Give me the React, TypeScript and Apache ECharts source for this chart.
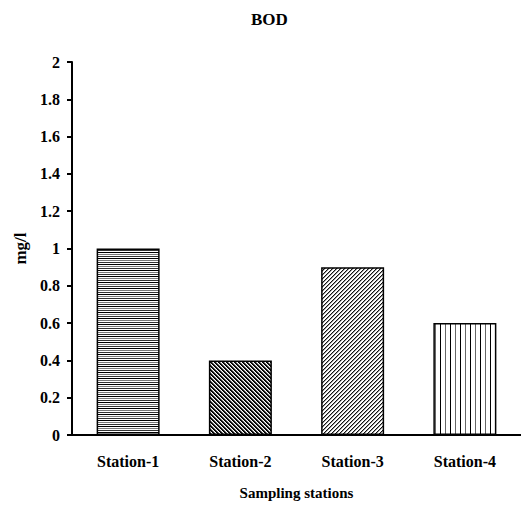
import React, { useEffect, useRef } from "react";
import * as echarts from "echarts";

const categories = ["Station-1", "Station-2", "Station-3", "Station-4"];
const bodValues = [1.0, 0.4, 0.9, 0.6];
const yTicks = { min: 0, max: 2, interval: 0.2 };
const titleText = "BOD";
const yName = "mg/l";
const xName = "Sampling stations";

type Painter = (ctx: CanvasRenderingContext2D) => void;

function makePattern(w: number, h: number, paint: Painter) {
  const c = document.createElement("canvas");
  c.width = w;
  c.height = h;
  const ctx = c.getContext("2d")!;
  ctx.fillStyle = "#fff";
  ctx.fillRect(0, 0, w, h);
  paint(ctx);
  return { image: c.toDataURL(), repeat: "repeat", imageWidth: w, imageHeight: h } as any;
}

function px(ctx: CanvasRenderingContext2D, x: number, y: number, col: string) {
  ctx.fillStyle = col;
  ctx.fillRect(x, y, 1, 1);
}

export default function App() {
  const ref = useRef<HTMLDivElement>(null);
  useEffect(() => {
    if (!ref.current) return;
    const chart = echarts.init(ref.current, undefined, { renderer: "svg" });

    const horiz = makePattern(4, 6, (ctx) => {
      for (let x = 0; x < 4; x++) {
        px(ctx, x, 0, "#000");
        px(ctx, x, 2, "#777");
        px(ctx, x, 4, "#333");
      }
    });
    const cross = makePattern(4, 4, (ctx) => {
      for (let y = 0; y < 4; y++)
        for (let x = 0; x < 4; x++) {
          const m = (((x - y) % 4) + 4) % 4;
          if (m === 0) px(ctx, x, y, "#000");
          else if (m === 1) px(ctx, x, y, "#111");
          else if (m === 2) px(ctx, x, y, "#999");
        }
    });
    const diag = makePattern(4, 4, (ctx) => {
      for (let y = 0; y < 4; y++)
        for (let x = 0; x < 4; x++) {
          const m = (x + y) % 4;
          if (m === 0) px(ctx, x, y, "#111");
          else if (m === 1) px(ctx, x, y, "#999");
        }
    });
    const vert = makePattern(10, 4, (ctx) => {
      for (let y = 0; y < 4; y++) {
        px(ctx, 0, y, "#000");
        px(ctx, 5, y, "#666");
      }
    });
    const patterns = [horiz, cross, diag, vert];

    const font = "Liberation Serif";

    chart.setOption({
      animation: false,
      backgroundColor: "#fff",
      title: {
        text: titleText,
        left: 246,
        top: 6,
        textStyle: { fontFamily: font, fontWeight: "bold", fontSize: 17, color: "#000" },
      },
      grid: { left: 72, top: 62, width: 452, bottom: 76, containLabel: false },
      xAxis: {
        type: "category",
        data: categories,
        name: xName,
        nameLocation: "middle",
        nameGap: 50,
        nameTextStyle: { fontFamily: font, fontWeight: "bold", fontSize: 15, color: "#000" },
        axisLine: { lineStyle: { color: "#000", width: 2 } },
        axisTick: { show: false },
        axisLabel: { fontFamily: font, fontWeight: "bold", fontSize: 16, color: "#000", margin: 18 },
      },
      yAxis: {
        type: "value",
        min: yTicks.min,
        max: yTicks.max,
        interval: yTicks.interval,
        name: yName,
        nameLocation: "middle",
        nameGap: 42,
        nameRotate: 90,
        nameTextStyle: { fontFamily: font, fontWeight: "bold", fontSize: 17, color: "#000" },
        axisLine: { show: true, lineStyle: { color: "#000", width: 2 } },
        axisTick: { show: true, length: 5, lineStyle: { color: "#000", width: 2 } },
        splitLine: { show: false },
        axisLabel: {
          fontFamily: font,
          fontWeight: "bold",
          fontSize: 16,
          color: "#000",
          margin: 12,
          formatter: (v: number) => String(Math.round(v * 10) / 10),
        },
      },
      series: [
        {
          type: "bar",
          barWidth: 63,
          data: bodValues.map((v, i) => ({
            value: v,
            itemStyle: { color: patterns[i], borderColor: "#000", borderWidth: 1.5 },
          })),
        },
      ],
    });
    return () => chart.dispose();
  }, []);
  return (
    <div
      ref={ref}
      style={{ position: "absolute", left: 0, top: 0, width: 521, height: 511 }}
    />
  );
}
